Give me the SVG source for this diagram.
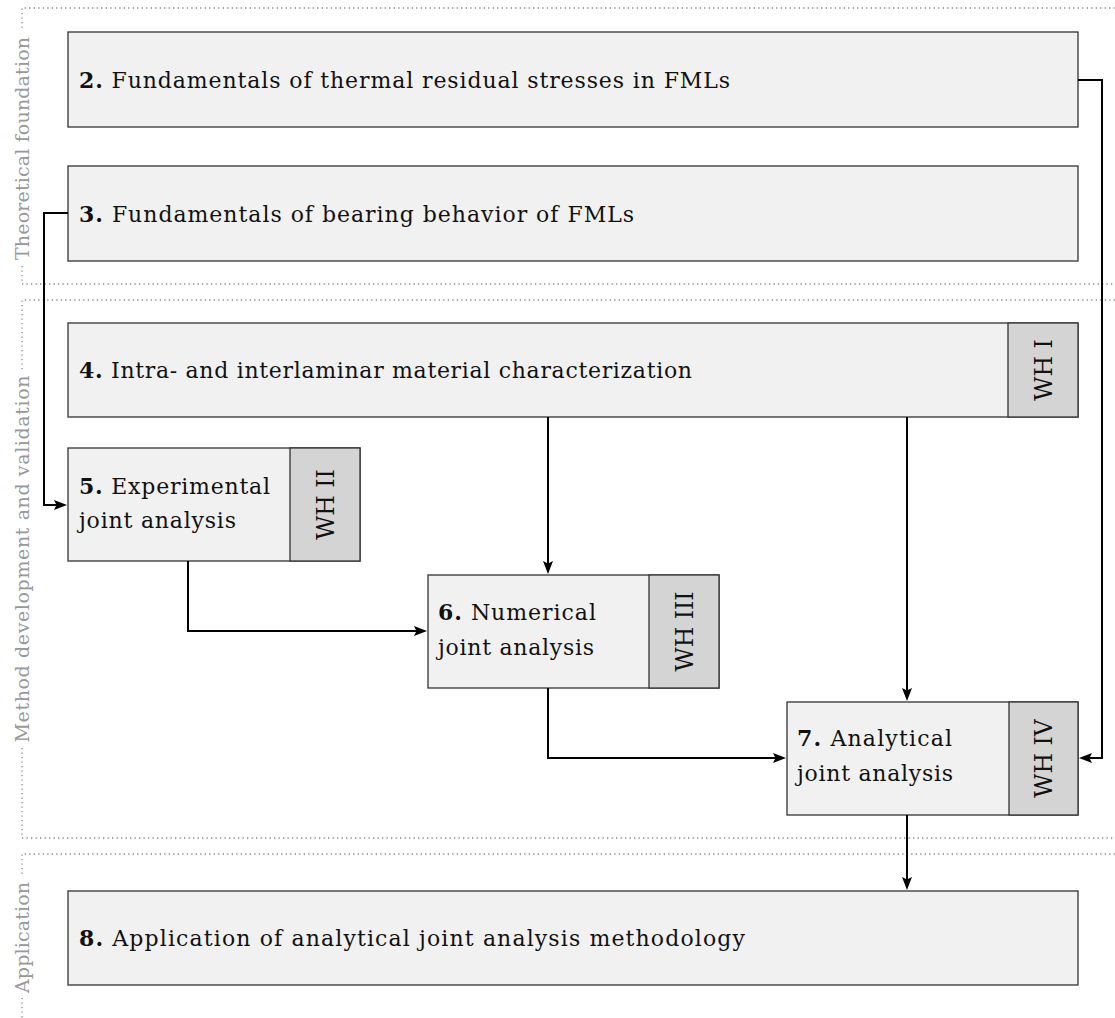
<svg xmlns="http://www.w3.org/2000/svg" width="1115" height="1018" viewBox="0 0 1115 1018">
<style>
.box{fill:#f1f1f1;stroke:#333;stroke-width:1.3}
.wh{fill:#d4d4d4;stroke:#333;stroke-width:1.3}
.t{font-family:"DejaVu Serif","Liberation Serif",serif;font-size:22px;fill:#111}
.w{font-family:"DejaVu Serif","Liberation Serif",serif;font-size:23.5px;fill:#111}
.b{font-weight:bold}
.sec{font-family:"DejaVu Serif","Liberation Serif",serif;font-size:19px;fill:#999}
.dot{fill:none;stroke:#8a8a8a;stroke-width:1.3;stroke-dasharray:1.3 3.2}
.c{fill:none;stroke:#000;stroke-width:2}
</style>
<defs>
<marker id="ar" markerUnits="userSpaceOnUse" markerWidth="14" markerHeight="12" viewBox="0 0 14 12" refX="7" refY="6" orient="auto">
<path d="M0,1 L13,6 L0,11 L2.5,6 z" fill="#000"/>
</marker>
</defs>

<g id="frames">
<path class="dot" d="M1115,8 H22 V30 M22,266 V284 H1115"/>
<path class="dot" d="M1115,300 H22 V372 M22,748 V838 H1115"/>
<path class="dot" d="M1115,854 H22 V877 M22,998 V1018"/>
<text class="sec" text-anchor="middle" transform="translate(29,148.5) rotate(-90)" textLength="223" lengthAdjust="spacing">Theoretical foundation</text>
<text class="sec" text-anchor="middle" transform="translate(29,559) rotate(-90)" textLength="367" lengthAdjust="spacing">Method development and validation</text>
<text class="sec" text-anchor="middle" transform="translate(29,937.5) rotate(-90)" textLength="111" lengthAdjust="spacing">Application</text>
</g>

<g id="node2">
<rect class="box" x="68" y="32" width="1010" height="95"/>
<text class="t" x="79" y="88" textLength="651" lengthAdjust="spacing"><tspan class="b">2.</tspan> Fundamentals of thermal residual stresses in FMLs</text>
</g>
<g id="node3">
<rect class="box" x="68" y="166" width="1010" height="95"/>
<text class="t" x="79" y="222" textLength="555" lengthAdjust="spacing"><tspan class="b">3.</tspan> Fundamentals of bearing behavior of FMLs</text>
</g>
<g id="node4">
<rect class="box" x="68" y="323" width="1010" height="94"/>
<rect class="wh" x="1008" y="323" width="70" height="94"/>
<text class="t" x="79" y="378" textLength="613" lengthAdjust="spacing"><tspan class="b">4.</tspan> Intra- and interlaminar material characterization</text>
<text class="w" text-anchor="middle" transform="translate(1051.5,370) rotate(-90)">WH I</text>
</g>
<g id="node5">
<rect class="box" x="68" y="448" width="292" height="113"/>
<rect class="wh" x="290" y="448" width="70" height="113"/>
<text class="t" x="79" y="494" textLength="191" lengthAdjust="spacing"><tspan class="b">5.</tspan> Experimental</text>
<text class="t" x="79" y="528" textLength="157" lengthAdjust="spacing">joint analysis</text>
<text class="w" text-anchor="middle" transform="translate(333.5,504.5) rotate(-90)">WH II</text>
</g>
<g id="node6">
<rect class="box" x="428" y="575" width="291" height="113"/>
<rect class="wh" x="649" y="575" width="70" height="113"/>
<text class="t" x="438" y="620" textLength="158" lengthAdjust="spacing"><tspan class="b">6.</tspan> Numerical</text>
<text class="t" x="438" y="655" textLength="156" lengthAdjust="spacing">joint analysis</text>
<text class="w" text-anchor="middle" transform="translate(692.5,631.5) rotate(-90)">WH III</text>
</g>
<g id="node7">
<rect class="box" x="787" y="702" width="291" height="113"/>
<rect class="wh" x="1009" y="702" width="69" height="113"/>
<text class="t" x="797" y="746" textLength="155" lengthAdjust="spacing"><tspan class="b">7.</tspan> Analytical</text>
<text class="t" x="797" y="781" textLength="156" lengthAdjust="spacing">joint analysis</text>
<text class="w" text-anchor="middle" transform="translate(1052,758.5) rotate(-90)">WH IV</text>
</g>
<g id="node8">
<rect class="box" x="68" y="891" width="1010" height="94"/>
<text class="t" x="79" y="946" textLength="666" lengthAdjust="spacing"><tspan class="b">8.</tspan> Application of analytical joint analysis methodology</text>
</g>

<g id="connectors">
<path class="c" marker-end="url(#ar)" d="M1078,80 H1102 V758 H1085"/>
<path class="c" marker-end="url(#ar)" d="M68,213 H44 V505 H61"/>
<path class="c" marker-end="url(#ar)" d="M548,417 V568"/>
<path class="c" marker-end="url(#ar)" d="M907,417 V695"/>
<path class="c" marker-end="url(#ar)" d="M188,561 V631 H421"/>
<path class="c" marker-end="url(#ar)" d="M548,688 V758 H780"/>
<path class="c" marker-end="url(#ar)" d="M907,815 V884"/>
</g>
</svg>
